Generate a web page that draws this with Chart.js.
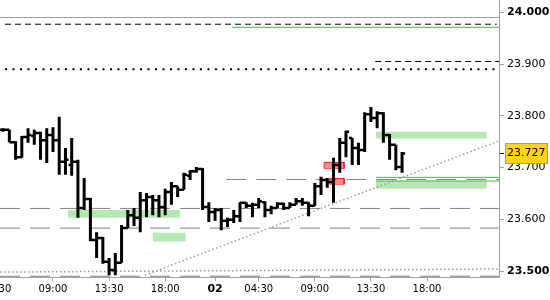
<!DOCTYPE html>
<html>
<head>
<meta charset="utf-8">
<script src="https://cdn.jsdelivr.net/npm/chart.js@4.4.1/dist/chart.umd.min.js"></script>
<style>
	html, body { margin: 0; padding: 0; background: #fff; overflow: hidden; }
	canvas { display: block; }
</style>
</head>
<body>
<canvas id="mycanvas" width="550" height="300"></canvas>
<script>
// 30 minute bars, bar 0 = 09:00 on the 1st
var firstBar = -8;
var opens  = [23.773,23.773,23.749,23.720,23.759,23.761,23.767,23.753,23.763,23.753,
	23.711,23.705,23.711,23.622,23.639,23.560,23.564,23.518,23.502,23.516,
	23.583,23.608,23.603,23.637,23.643,23.637,23.624,23.653,23.664,23.657,
	23.684,23.693,23.697,23.624,23.614,23.618,23.597,23.599,23.606,23.632,
	23.626,23.628,23.633,23.618,23.622,23.630,23.622,23.628,23.635,23.632,
	23.626,23.664,23.676,23.672,23.705,23.748,23.757,23.738,23.734,23.803,
	23.796,23.805,23.763,23.744,23.701];
var highs  = [23.776,23.773,23.751,23.761,23.776,23.773,23.769,23.776,23.778,23.798,
	23.738,23.757,23.715,23.680,23.641,23.575,23.566,23.525,23.535,23.589,
	23.618,23.622,23.653,23.651,23.647,23.647,23.659,23.672,23.664,23.690,
	23.695,23.701,23.699,23.633,23.622,23.622,23.603,23.618,23.633,23.633,
	23.632,23.641,23.635,23.626,23.633,23.632,23.633,23.641,23.641,23.633,
	23.670,23.682,23.680,23.719,23.757,23.771,23.757,23.748,23.807,23.817,
	23.809,23.807,23.765,23.744,23.730];
var lows   = [23.769,23.749,23.715,23.719,23.748,23.744,23.715,23.709,23.730,23.686,
	23.686,23.684,23.603,23.618,23.558,23.525,23.514,23.492,23.492,23.516,
	23.583,23.587,23.575,23.604,23.608,23.604,23.608,23.628,23.643,23.657,
	23.676,23.690,23.618,23.595,23.597,23.579,23.585,23.593,23.595,23.622,
	23.604,23.622,23.604,23.610,23.622,23.618,23.622,23.628,23.626,23.606,
	23.626,23.647,23.661,23.632,23.690,23.720,23.705,23.705,23.730,23.788,
	23.776,23.748,23.715,23.695,23.690];
var closes = [23.773,23.749,23.720,23.759,23.763,23.767,23.753,23.763,23.753,23.711,
	23.715,23.711,23.622,23.639,23.560,23.564,23.518,23.502,23.516,23.583,
	23.608,23.603,23.637,23.643,23.637,23.624,23.653,23.664,23.657,23.686,
	23.693,23.697,23.624,23.614,23.618,23.597,23.599,23.606,23.632,23.626,
	23.628,23.635,23.618,23.622,23.630,23.622,23.628,23.635,23.632,23.626,
	23.664,23.676,23.672,23.705,23.748,23.769,23.738,23.734,23.803,23.796,
	23.805,23.763,23.744,23.701,23.727];
var lastPrice = 23.727;

var timeTicks  = [-9, 0, 9, 18, 26, 33, 42, 51, 60];
var timeLabels = ['04:30', '09:00', '13:30', '18:00', '02', '04:30', '09:00', '13:30', '18:00'];
var priceTicks = [23.5, 23.6, 23.7, 23.8, 23.9, 24.0];

// horizontal levels
var levelPrice = [23.990, 23.977, 23.971, 23.905, 23.890, 23.677, 23.621, 23.583, 23.490, 23.681, 23.674];
var levelFrom  = [-8.5, -7.7, 28.7, 51.7, -7.7, 27.8, -8.5, -8.5, -8.5, 51.8, 51.8];
var levelTo    = [71.55, 71.2, 71.55, 71.55, 71.2, 71.55, 71.55, 71.55, 71.55, 71.55, 71.55];

// trend lines
var trendFromBar   = [-8.5, 14.76];
var trendFromPrice = [23.498, 23.492];
var trendToBar     = [71.55, 71.4];
var trendToPrice   = [23.504, 23.751];

// zones
var zoneFrom   = [2.4, 16.0, 51.8, 51.8, 43.5, 44.4];
var zoneTo     = [20.4, 21.3, 69.6, 69.6, 46.7, 46.7];
var zoneTop    = [23.618, 23.574, 23.769, 23.674, 23.710, 23.679];
var zoneBottom = [23.603, 23.557, 23.756, 23.659, 23.698, 23.668];

var levelStyle = [
	{color: '#9c9c9c', width: 1, dash: []},
	{color: '#000000', width: 1, dash: [6, 4]},
	{color: '#44b844', width: 1, dash: []},
	{color: '#000000', width: 1, dash: [6, 4]},
	{color: '#000000', width: 2, dash: [2, 5.5]},
	{color: '#808080', width: 1, dash: [20, 10]},
	{color: '#808080', width: 1, dash: [20, 10]},
	{color: '#808080', width: 1, dash: [20, 10]},
	{color: '#808080', width: 1, dash: [20, 10]},
	{color: '#44b844', width: 1, dash: []},
	{color: '#44b844', width: 1, dash: []}
];
var zoneRed = [false, false, false, false, true, true];

var wicks = [];
var ticks = [];
for (var i = 0; i < opens.length; i++) {
	var x = firstBar + i;
	wicks.push({x: x, y: lows[i]}, {x: x, y: highs[i]}, {x: x, y: null});
	ticks.push({x: x - 0.5, y: opens[i]}, {x: x, y: opens[i]}, {x: x, y: null},
		{x: x, y: closes[i]}, {x: x + 0.5, y: closes[i]}, {x: x + 0.5, y: null});
}

var datasets = [
	{data: wicks, borderColor: '#000', borderWidth: 3, spanGaps: false},
	{data: ticks, borderColor: '#000', borderWidth: 2.5, spanGaps: false}
];

for (var t = 0; t < trendFromBar.length; t++) {
	datasets.push({
		data: [{x: trendFromBar[t], y: trendFromPrice[t]}, {x: trendToBar[t], y: trendToPrice[t]}],
		borderColor: '#9a9a9a', borderWidth: 1.5, borderDash: [1.5, 2.5]
	});
}

for (var l = 0; l < levelPrice.length; l++) {
	datasets.push({
		data: [{x: levelFrom[l], y: levelPrice[l]}, {x: levelTo[l], y: levelPrice[l]}],
		borderColor: levelStyle[l].color, borderWidth: levelStyle[l].width, borderDash: levelStyle[l].dash
	});
}

// each zone = outline path filled down to its bottom edge
for (var z = 0; z < zoneFrom.length; z++) {
	var red = zoneRed[z];
	datasets.push({
		data: [{x: zoneFrom[z], y: zoneBottom[z]}, {x: zoneFrom[z], y: zoneTop[z]},
			{x: zoneTo[z], y: zoneTop[z]}, {x: zoneTo[z], y: zoneBottom[z]}],
		borderColor: red ? '#ff1a1a' : 'rgba(0,0,0,0)', borderWidth: red ? 1 : 0,
		backgroundColor: red ? 'rgb(243,140,140)' : 'rgb(181,232,178)',
		fill: '+1'
	});
	datasets.push({
		data: [{x: zoneFrom[z], y: zoneBottom[z]}, {x: zoneTo[z], y: zoneBottom[z]}],
		borderColor: red ? '#ff1a1a' : 'rgba(0,0,0,0)', borderWidth: red ? 1 : 0
	});
}

// grey frame round the current price tag on the price axis
var priceTagFrame = {
	id: 'priceTagFrame',
	afterDraw: function(c) {
		var s = c.scales.y;
		var g = c.ctx;
		var py = s.getPixelForValue(lastPrice);
		g.save();
		g.font = '11px "DejaVu Sans"';
		var w = g.measureText(lastPrice.toFixed(3)).width;
		g.strokeStyle = '#9a9a9a';
		g.lineWidth = 1;
		g.strokeRect(Math.round(s.left + 6) + 0.5, Math.round(py - 11) + 0.5, Math.round(w + 4), 20);
		g.restore();
	}
};

var ctx = document.getElementById('mycanvas');
var chart = new Chart(ctx, {
	type: 'line',
	data: {datasets: datasets},
	plugins: [priceTagFrame],
	options: {
		responsive: false,
		devicePixelRatio: 1,
		animation: false,
		layout: {padding: 0},
		elements: {point: {radius: 0, hoverRadius: 0}, line: {tension: 0}},
		plugins: {legend: {display: false}, tooltip: {enabled: false}},
		events: [],
		scales: {
			x: {
				type: 'linear',
				min: -8.5,
				max: 71.55,
				afterBuildTicks: function(s) {
					s.ticks = timeTicks.map(function(v) { return {value: v}; });
				},
				afterFit: function(s) {
					s.height = 23;
					s.paddingLeft = 0;
					s.paddingRight = 0;
				},
				grid: {drawOnChartArea: false, tickLength: 4, tickColor: '#a0a0a0'},
				border: {color: '#a0a0a0'},
				ticks: {
					autoSkip: false,
					maxRotation: 0,
					padding: 2,
					color: '#000',
					font: function(c) {
						var bold = timeLabels[c.index] === '02';
						return {family: 'DejaVu Sans', size: bold ? 11 : 10, weight: bold ? 'bold' : 'normal'};
					},
					callback: function(v, i) { return timeLabels[i]; }
				}
			},
			y: {
				type: 'linear',
				position: 'right',
				min: 23.4885,
				max: 24.0238,
				afterBuildTicks: function(s) {
					s.ticks = priceTicks.map(function(v) { return {value: v}; });
					s.ticks.push({value: lastPrice});
				},
				afterFit: function(s) {
					s.width = 51;
					s.paddingTop = 0;
					s.paddingBottom = 0;
				},
				grid: {
					drawOnChartArea: false,
					tickLength: 5,
					tickColor: function(c) { return c.tick && c.tick.value === lastPrice ? '#000' : '#a0a0a0'; }
				},
				border: {color: '#a0a0a0'},
				ticks: {
					autoSkip: false,
					padding: 3,
					color: '#000',
					font: function(c) {
						var v = c.tick ? c.tick.value : 0;
						var bold = v === 24.0 || v === 23.5;
						return {family: 'DejaVu Sans', size: 11, weight: bold ? 'bold' : 'normal'};
					},
					callback: function(v) { return v.toFixed(3); },
					showLabelBackdrop: function(c) { return c.tick && c.tick.value === lastPrice; },
					backdropColor: '#ffd418',
					backdropPadding: {top: 4, bottom: 3, left: 2, right: 2}
				}
			}
		}
	}
});
</script>
</body>
</html>
